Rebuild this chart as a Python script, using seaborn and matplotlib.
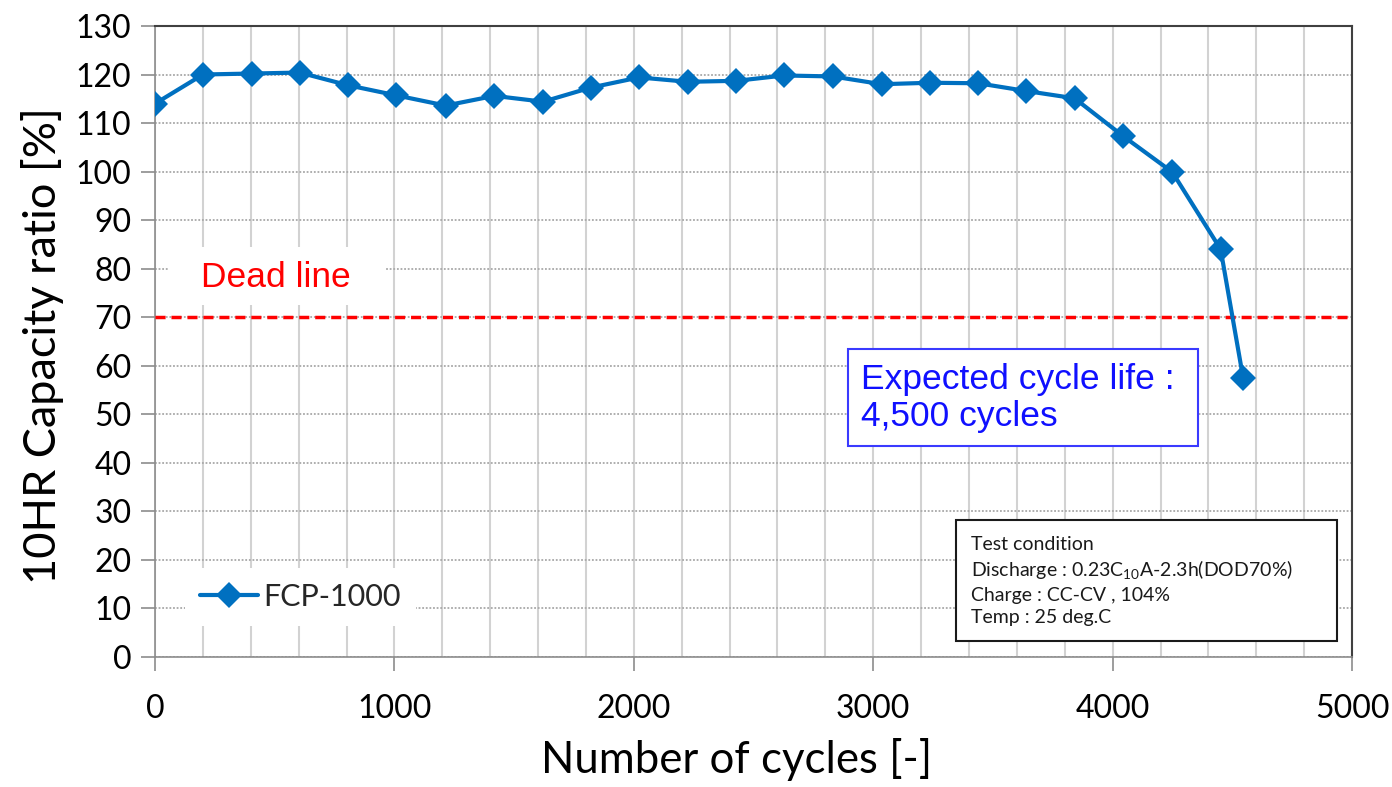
import pandas as pd
import matplotlib
matplotlib.use('Agg')
import matplotlib.pyplot as plt
import seaborn as sns
from matplotlib.patches import Rectangle
from matplotlib.ticker import MultipleLocator

# cycle test data
cycles = [0, 200, 403, 604, 805, 1008, 1214, 1417, 1621, 1820, 2022, 2225,
          2428, 2628, 2831, 3035, 3236, 3438, 3639, 3841, 4044, 4249, 4451, 4545]
capacity = [114.0, 120.0, 120.2, 120.4, 117.8, 115.7, 113.6, 115.6, 114.4, 117.3, 119.4, 118.5,
            118.7, 119.8, 119.6, 118.0, 118.3, 118.2, 116.6, 115.1, 107.3, 99.9, 84.0, 57.5]
series_name = 'FCP-1000'
dead_line = 70

test_lines = ['Test condition',
              r'Discharge : 0.23C$_\mathregular{10}$A-2.3h(DOD70%)',
              'Charge : CC-CV , 104%',
              'Temp : 25 deg.C']

df = pd.DataFrame({'cycles': cycles, 'capacity': capacity})

sns.set_theme(style='white')
plt.rcParams['font.family'] = ['Lato', 'DejaVu Sans']

fig = plt.figure(figsize=(13.92, 7.87), dpi=100)
ax = fig.add_axes([0.1114, 0.1652, 0.8599, 0.8018])

blue = '#0070C0'
sns.lineplot(data=df, x='cycles', y='capacity', ax=ax, color=blue, lw=3,
             marker='D', markersize=13, markeredgewidth=0, label=series_name, zorder=5)

ax.axhline(dead_line, color='#ff0000', lw=2.5, ls=(0, (2.9, 1.7)), zorder=4)

ax.set_xlim(0, 5000)
ax.set_ylim(0, 130)
ax.xaxis.set_major_locator(MultipleLocator(1000))
ax.xaxis.set_minor_locator(MultipleLocator(200))
ax.yaxis.set_major_locator(MultipleLocator(10))

ax.grid(axis='x', which='both', color='#d2d2d2', lw=1.5)
ax.grid(axis='y', which='major', color='#a8a8a8', lw=1.3, ls=(0, (1, 1)))
ax.set_axisbelow(True)

ax.tick_params(axis='x', which='major', direction='out', length=10, width=1.2,
               color='#8c8c8c', pad=17, labelsize=23, labelcolor='black', bottom=True)
ax.tick_params(axis='x', which='minor', length=0)
ax.tick_params(axis='y', direction='out', length=10, width=1.2, color='#8c8c8c',
               pad=7, labelsize=23, labelcolor='black', left=True)

for s in ['top', 'right']:
    ax.spines[s].set_color('#404040')
    ax.spines[s].set_linewidth(1.5)
for s in ['left', 'bottom']:
    ax.spines[s].set_color('#8c8c8c')
    ax.spines[s].set_linewidth(1.2)

ax.set_xlabel('Number of cycles [-]', fontsize=31.5, color='black')
ax.set_ylabel('10HR Capacity ratio [%]', fontsize=32.5, color='black')
ax.xaxis.set_label_coords(0.486, -0.128)
ax.yaxis.set_label_coords(-0.076, 0.494)

# dead line label with white backing
ax.add_patch(Rectangle((54, 72.6), 907, 11.8, facecolor='white', edgecolor='none', zorder=3))
ax.text(505, 78.2, 'Dead line', color='#ff0000', fontsize=25.5, family='Liberation Sans',
        ha='center', va='center', zorder=6)

# expected cycle life box
ax.add_patch(Rectangle((2895, 43.5), 1462, 20, facecolor='white', edgecolor='#3a3aff',
                       lw=1.5, zorder=6))
ax.text(2950, 53.3, 'Expected cycle life :\n4,500 cycles', color='#1010ff', fontsize=25.5,
        family='Liberation Sans', ha='left', va='center', linespacing=1.15, zorder=7)

# test condition box
ax.add_patch(Rectangle((3346, 3.3), 1592, 24.9, facecolor='white', edgecolor='#1a1a1a',
                       lw=1.5, zorder=6))
ax.text(3409, 15.7, '\n'.join(test_lines), color='#1a1a1a', fontsize=14,
        ha='left', va='center', linespacing=1.35, zorder=7)

leg = ax.legend(loc='lower left', bbox_to_anchor=(0.025, 0.049), borderaxespad=0,
                fontsize=22, frameon=True, fancybox=False, edgecolor='none',
                facecolor='white', framealpha=1, handlelength=1.9, handletextpad=0.15,
                borderpad=0.5)
leg.set_zorder(6)

fig.savefig('out.png', dpi=100)
